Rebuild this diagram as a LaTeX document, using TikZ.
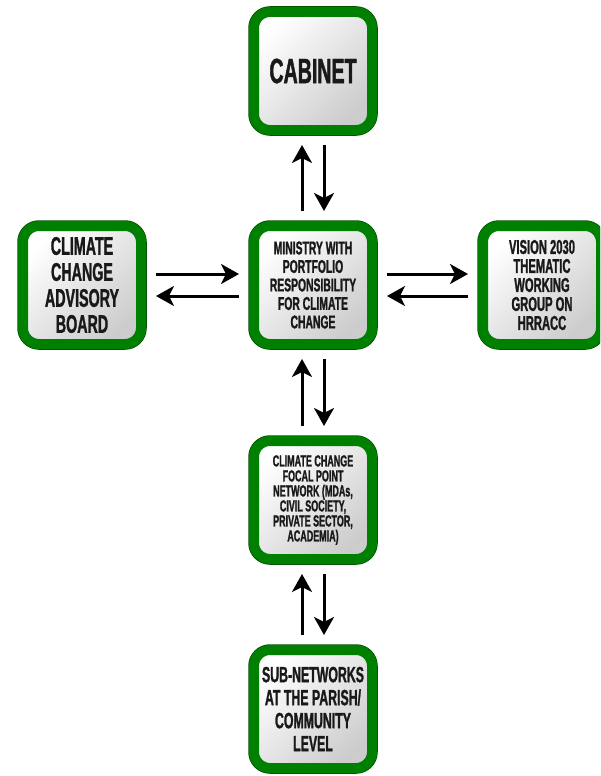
\documentclass[tikz,border=0pt]{standalone}
\usepackage{fontspec}
\usetikzlibrary{arrows.meta}
\newfontfamily\unitfont{Liberation Sans}[FakeStretch=0.56,FakeBold=1.2]
\definecolor{unitgreen}{RGB}{0,128,0}
\definecolor{unitedge}{RGB}{0,80,0}
\tikzset{
  unit/.style={minimum width=118pt, minimum height=118pt, inner sep=0pt,
    rounded corners=16pt, draw=unitgreen, line width=10pt,
    top color=white, bottom color=black!20, shading angle=45,
    preaction={draw=unitedge, line width=11.5pt},
    text=black!90, align=center},
  unittext/.style 2 args={font=\unitfont\bfseries\fontsize{#1}{#2}\selectfont},
  flow/.style={line width=3pt, -{Stealth[length=18pt,width=20pt,inset=5pt]},
    shorten >=10pt, shorten <=10pt}
}
\begin{document}
\begin{tikzpicture}[x=1pt,y=-1pt]
    \clip (0,0) rectangle (600,776);
    \node[unit,unittext={35}{38}] (cabinet) at (313,71) {CABINET};
    \node[unit,unittext={25.5}{26}] (advisory) at (82,285) {CLIMATE\\CHANGE\\ADVISORY\\BOARD};
    \node[unit,unittext={18.5}{18.5}] (ministry) at (313,285) {MINISTRY WITH\\PORTFOLIO\\RESPONSIBILITY\\FOR CLIMATE\\CHANGE};
    \node[unit,unittext={20}{19}] (vision) at (542,285) {VISION 2030\\THEMATIC\\WORKING\\GROUP ON\\HRRACC};
    \node[unit,unittext={16}{15}] (focal) at (313,500) {CLIMATE CHANGE\\FOCAL POINT\\NETWORK (MDAs,\\CIVIL SOCIETY,\\PRIVATE SECTOR,\\ACADEMIA)};
    \node[unit,unittext={22}{23}] (subnet) at (313,709) {SUB-NETWORKS\\AT THE PARISH/\\COMMUNITY\\LEVEL};
    \draw[flow] ([xshift=-11pt]ministry.north) -- ([xshift=-11pt]cabinet.south);
    \draw[flow] ([xshift=11pt]cabinet.south) -- ([xshift=11pt]ministry.north);
    \draw[flow] ([yshift=11pt]advisory.east) -- ([yshift=11pt]ministry.west);
    \draw[flow] ([yshift=-11pt]ministry.west) -- ([yshift=-11pt]advisory.east);
    \draw[flow] ([yshift=11pt]ministry.east) -- ([yshift=11pt]vision.west);
    \draw[flow] ([yshift=-11pt]vision.west) -- ([yshift=-11pt]ministry.east);
    \draw[flow] ([xshift=-11pt]focal.north) -- ([xshift=-11pt]ministry.south);
    \draw[flow] ([xshift=11pt]ministry.south) -- ([xshift=11pt]focal.north);
    \draw[flow] ([xshift=-11pt]subnet.north) -- ([xshift=-11pt]focal.south);
    \draw[flow] ([xshift=11pt]focal.south) -- ([xshift=11pt]subnet.north);
\end{tikzpicture}
\end{document}
